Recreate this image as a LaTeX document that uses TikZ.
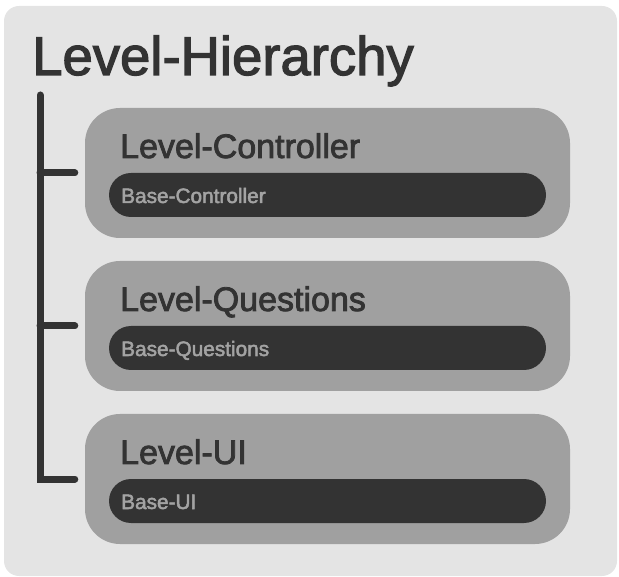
\documentclass[tikz,border=0pt]{standalone}
\usepackage{fontspec}
\setmainfont{Liberation Sans}
\usetikzlibrary{calc}
% outline-stroked text for a slightly heavier weight
\newcommand\heavier[2]{\special{pdf:literal direct 2 Tr #1 w}#2\special{pdf:literal direct 0 Tr 0.4 w}}
\definecolor{panelbg}{HTML}{E4E4E4}
\definecolor{levelgray}{HTML}{A0A0A0}
\definecolor{inkdark}{HTML}{333333}
\definecolor{barlabel}{HTML}{A3A3A3}
\tikzset{
  levelbox/.style={fill=levelgray, rounded corners=35pt, minimum width=485pt,
    minimum height=130pt, inner sep=0pt},
  basebar/.style={fill=inkdark, rounded corners=22pt, minimum width=437pt,
    minimum height=44pt, inner sep=0pt},
  leveltext/.style={anchor=base west, inner sep=0pt, text=inkdark,
    font=\fontsize{34}{38}\selectfont},
  basetext/.style={anchor=base west, inner sep=0pt, text=barlabel,
    font=\fontsize{20.8}{24}\selectfont},
  treeline/.style={draw=inkdark, line width=7pt, line cap=round, line join=miter}
}
\begin{document}
\begin{tikzpicture}[x=1pt, y=-1pt]
  \useasboundingbox (0,0) rectangle (619,577);
  % outer panel
  \fill[panelbg, rounded corners=15pt] (4,6) rectangle (617,576);
  % title
  \node[anchor=base west, inner sep=0pt, text=inkdark,
        font=\fontsize{54.5}{60}\selectfont] (title) at (32,75) {\heavier{1.2}{Level-Hierarchy}};

  % three level boxes with their base bars
  \node[levelbox] (lc) at (327.5,173) {};
  \node[basebar]  (bc) at (327.5,195) {};
  \node[leveltext] (lct) at (120,158) {\heavier{0.8}{Level-Controller}};
  \node[basetext]  (bct) at (121,203) {\heavier{0.5}{Base-Controller}};

  \node[levelbox] (lq) at (327.5,326) {};
  \node[basebar]  (bq) at (327.5,348) {};
  \node[leveltext] (lqt) at (120,311) {\heavier{0.8}{Level-Questions}};
  \node[basetext]  (bqt) at (121,356) {\heavier{0.5}{Base-Questions}};

  \node[levelbox] (lu) at (327.5,479) {};
  \node[basebar]  (bu) at (327.5,501) {};
  \node[leveltext] (lut) at (120,464) {\heavier{0.8}{Level-UI}};
  \node[basetext]  (but) at (121,509) {\heavier{0.5}{Base-UI}};

  % hierarchy tree
  \coordinate (trunktop) at (40,95);
  \coordinate (stubc) at ($(lc.west)+(-10,0)$);
  \coordinate (stubq) at ($(lq.west)+(-10,0)$);
  \coordinate (stubu) at ($(lu.west)+(-10,0)$);
  \draw[treeline] (trunktop) |- (stubu);
  \draw[treeline] (trunktop |- stubc) -- (stubc);
  \draw[treeline] (trunktop |- stubq) -- (stubq);
\end{tikzpicture}
\end{document}
